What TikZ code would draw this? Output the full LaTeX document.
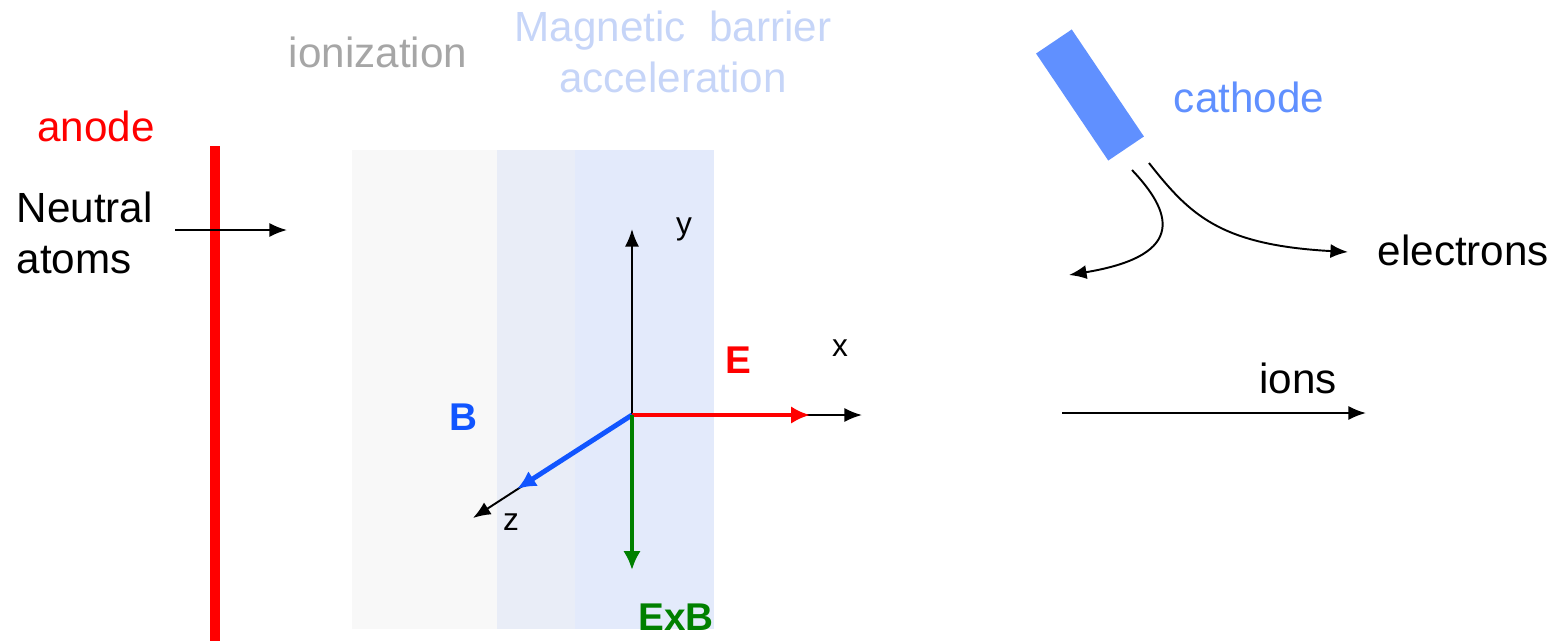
\documentclass[tikz,border=0pt]{standalone}
\usepackage{fontspec}
\setmainfont{Liberation Sans}
\usetikzlibrary{arrows.meta}

\definecolor{anoderot}{RGB}{255,0,0}
\definecolor{ionisgrau}{RGB}{166,166,166}
\definecolor{barriereblau}{RGB}{198,213,248}
\definecolor{kathodeblau}{RGB}{96,144,255}
\definecolor{bblau}{RGB}{17,85,255}
\definecolor{exbgruen}{RGB}{0,128,0}
\definecolor{zoneA}{RGB}{248,248,248}
\definecolor{zoneB}{RGB}{233,237,247}
\definecolor{zoneC}{RGB}{227,234,251}

\begin{document}
\begin{tikzpicture}[
    x=0.01cm, y=-0.01cm,
    >={Latex[length=5pt,width=4pt]},
    font=\fontsize{12}{14.5}\selectfont,
    pfeil/.style={->, line width=0.55pt},
    feld/.style={-{Latex[length=5.4pt,width=5pt]}, line width=1.4pt},
    achse/.style={font=\fontsize{9}{10}\selectfont},
    feldtext/.style={font=\fontsize{11}{13}\selectfont\bfseries}
]
\useasboundingbox (0,0) rectangle (1553,641);

% Zonen
\fill[zoneA] (352,150) rectangle (497,629);
\fill[zoneB] (497,150) rectangle (575,629);
\fill[zoneC] (575,150) rectangle (714,629);

% Ueberschriften
\node[text=ionisgrau] (ion) at (378,52) {ionization};
\node[text=barriereblau, align=center] (barr) at (673,52)
    {Magnetic\ \ barrier\\acceleration};

% Anode
\coordinate (aoben) at (215,146);
\coordinate (aunten) at (215,641);
\draw[anoderot, line width=2.8pt] (aoben) -- (aunten);
\node[text=anoderot] (anode) at (96,126) {anode};

\node[align=left, anchor=west, inner sep=0pt] (neutral) at (16,233) {Neutral\\atoms};
\coordinate (nstart) at (175,230);
\coordinate (nende) at (287,230);
\draw[pfeil] (nstart) -- (nende);

% Achsen
\coordinate (O) at (632,415);
\coordinate (ytip) at (632,229);
\coordinate (xtip) at (862,415);
\coordinate (ztip) at (473,518);
\coordinate (etip) at (810,415);
\coordinate (btip) at (517,489);
\coordinate (exbtip) at (632,570);

\draw[pfeil] (O) -- (ytip);
\draw[pfeil] (O) -- (xtip);
\draw[pfeil] (O) -- (ztip);
\draw[feld, anoderot] (O) -- (etip);
\draw[feld, bblau] (O) -- (btip);
\draw[feld, exbgruen] (O) -- (exbtip);

\node[achse] (ylab) at (684,229) {y};
\node[achse] (xlab) at (840,348) {x};
\node[achse] (zlab) at (511,522) {z};
\node[feldtext, text=anoderot] (E) at (738,360) {E};
\node[feldtext, text=bblau] (B) at (463,417) {B};
\node[feldtext, text=exbgruen] (ExB) at (676,617) {ExB};

% Kathode
\node[fill=kathodeblau, minimum width=1.29cm, minimum height=0.43cm,
      inner sep=0pt, rotate=-56] (kathode) at (1090,95) {};
\node[text=kathodeblau] (kathlab) at (1249,97) {cathode};

\coordinate (e1start) at (1132,170);
\coordinate (e1ende) at (1069,275);
\coordinate (e2start) at (1149,163);
\coordinate (e2ende) at (1348,252);
\draw[pfeil] (e1start) .. controls (1170,210) and (1190,255) .. (e1ende);
\draw[pfeil] (e2start) .. controls (1190,215) and (1220,245) .. (e2ende);
\node[anchor=west, inner sep=0pt] (elek) at (1377,250) {electrons};

% Ionen
\coordinate (istart) at (1062,413);
\coordinate (iende) at (1366,413);
\draw[pfeil] (istart) -- (iende);
\node (ionen) at (1298,378) {ions};

\end{tikzpicture}
\end{document}
